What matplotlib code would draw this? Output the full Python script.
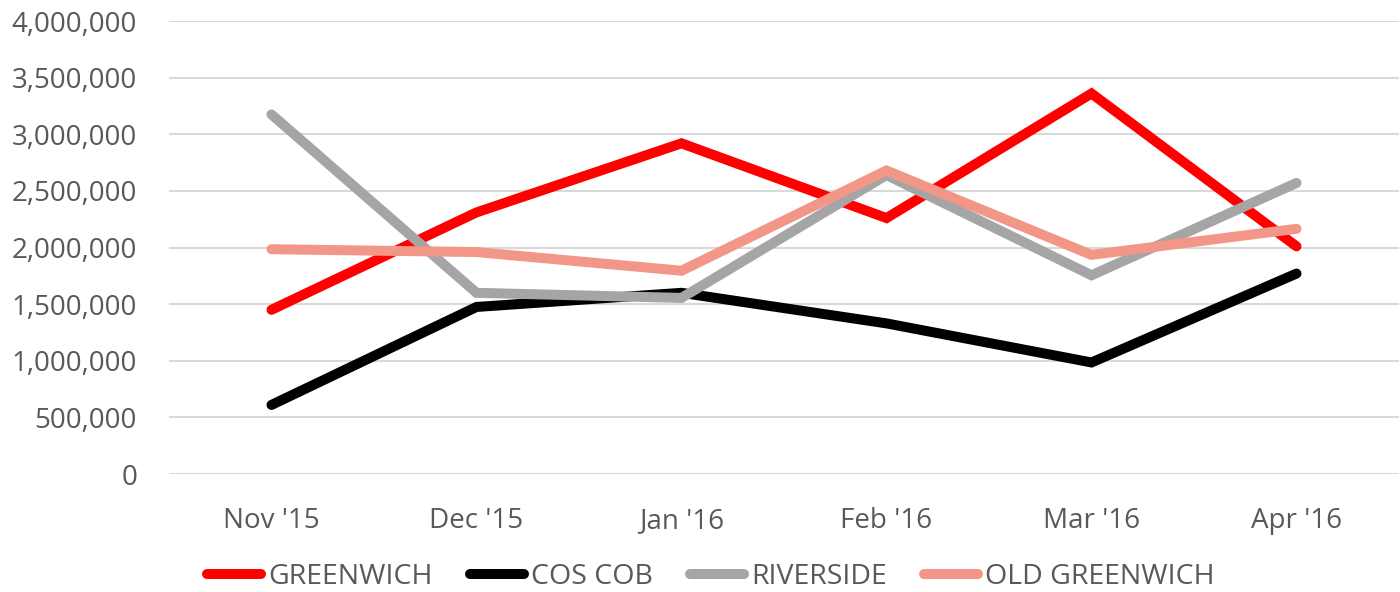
import matplotlib.pyplot as plt
from matplotlib.ticker import FuncFormatter

months = ["Nov '15", "Dec '15", "Jan '16", "Feb '16", "Mar '16", "Apr '16"]
greenwich = [1450000, 2310000, 2920000, 2260000, 3360000, 2010000]
cos_cob = [610000, 1475000, 1600000, 1330000, 985000, 1770000]
riverside = [3175000, 1600000, 1555000, 2640000, 1755000, 2570000]
old_greenwich = [1985000, 1960000, 1795000, 2680000, 1935000, 2165000]

series = [
    ("GREENWICH", greenwich, "#FF0000"),
    ("COS COB", cos_cob, "#000000"),
    ("RIVERSIDE", riverside, "#A5A5A5"),
    ("OLD GREENWICH", old_greenwich, "#F29788"),
]

plt.rcParams['font.family'] = ['Open Sans', 'DejaVu Sans']

fig = plt.figure(figsize=(14, 5.92), dpi=100)
ax = fig.add_axes([0.1207, 0.1993, 0.8786, 0.7652])

x = range(len(months))
for name, vals, color in series:
    ax.plot(x, vals, color=color, lw=7.2, label=name,
            solid_capstyle='round', solid_joinstyle='miter')

ax.set_xlim(-0.5, 5.5)
ax.set_ylim(0, 4000000)
ax.set_yticks(range(0, 4000001, 500000))
ax.yaxis.set_major_formatter(FuncFormatter(lambda v, p: f"{int(v):,}"))
ax.set_xticks(list(x))
ax.set_xticklabels(months)
ax.grid(axis='y', color='#D9D9D9', lw=1.5)
ax.set_axisbelow(True)
for s in ax.spines.values():
    s.set_visible(False)
ax.tick_params(length=0, labelsize=20, colors='#595959')
ax.tick_params(axis='x', pad=24)
ax.tick_params(axis='y', pad=23)

leg = fig.legend(loc='center', bbox_to_anchor=(0.508, 0.025), ncol=4,
                 frameon=False, handlelength=1.9, handletextpad=0.25,
                 columnspacing=1.3, fontsize=20.5)
for t in leg.get_texts():
    t.set_color('#595959')

fig.savefig("out.png")
